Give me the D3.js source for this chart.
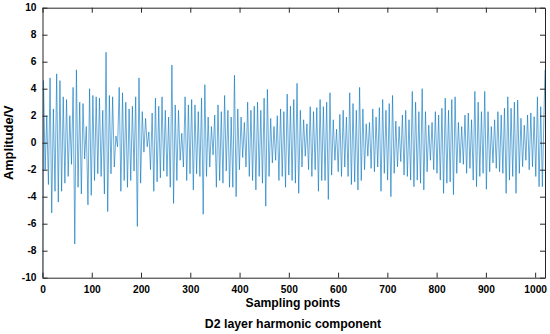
<!DOCTYPE html>
<html><head><meta charset="utf-8">
<script src="https://cdn.jsdelivr.net/npm/d3@7"></script>
<style>body{margin:0;background:#fff}text{font-family:"Liberation Sans",Arial,sans-serif}</style>
</head><body><svg id="c" width="550" height="334"></svg>
<script>
// ---- data ----
const firstSample = { index: 0, value: -10 };
const lastSample = { index: 1020, value: 5.4 };
const peakValues = [
  4.6, 2.0, 4.8, 2.5, 5.1, 4.6, 3.4, 3.2, 2.0, 4.1, 5.4, 3.0, 2.9, 1.2, 4.0, 3.5, 3.4, 3.3, 2.4, 6.7, 3.5, 3.4, 0.5, 4.1, 3.7,
  3.0, 2.5, 2.7, 3.4, 4.8, 2.3, 1.8, 0.8, 2.2, 3.3, 2.7, 3.4, 2.4, 1.9, 5.75, 2.8, 2.4, 0.7, 3.4, 2.8, 3.2, 2.8, 2.3, 3.3, 4.3, 1.9, 1.2,
  2.05, 2.8, 2.3, 3.5, 2.4, 1.9, 5.0, 2.5, 1.9, 1.5, 3.0, 2.4, 2.7, 3.0, 2.4, 3.3, 3.95, 1.8, 1.2, 2.0, 2.5, 2.3, 3.6, 2.7, 3.2, 4.4,
  2.4, 1.7, 1.4, 2.67, 2.3, 2.6, 3.2, 2.67, 3.0, 3.7, 1.7, 1.0, 2.1, 2.4, 1.9, 3.7, 2.9, 2.4, 4.1, 2.5, 1.4, 1.5, 2.5, 1.9, 2.6,
  3.2, 2.4, 2.9, 3.5, 1.6, 1.2, 2.05, 2.4, 1.7, 3.8, 3.0, 2.3, 4.0, 2.3, 1.3, 1.5, 2.3, 2.05, 2.55, 3.3, 2.4, 3.2, 3.4, 1.5, 1.2, 2.05,
  2.2, 1.7, 3.8, 3.0, 2.3, 3.8, 2.3, 1.2, 1.7, 2.3, 2.05, 2.55, 3.4, 2.55, 3.0, 3.16, 1.8, 1.3, 2.05, 2.2, 1.93, 3.4, 2.67
];
const troughValues = [
  -2.0, -3.1, -5.2, -3.6, -4.4, -3.6, -3.0, -2.5, -1.6, -7.5, -3.3, -3.8, -1.2, -4.6, -3.9, -2.8, -2.3, -2.5, -3.8, -5.1, -2.3, -1.8, -0.3, -3.6, -2.8,
  -3.3, -2.8, -2.1, -6.2, -3.0, -0.7, -0.3, -2.0, -3.6, -2.9, -2.6, -2.1, -2.5, -3.3, -4.5, -2.8, -1.3, -1.8, -2.8, -2.3, -3.5, -2.3, -2.5, -5.3, -2.5, -1.8,
  -0.9, -3.3, -2.8, -3.0, -2.1, -3.3, -3.3, -4.0, -2.0, -1.1, -1.8, -2.5, -2.8, -3.5, -2.5, -3.0, -4.7, -2.5, -1.5, -1.3, -2.8, -2.5, -3.3, -2.4, -2.8, -3.0,
  -3.75, -1.8, -1.0, -2.0, -2.5, -2.0, -3.6, -2.8, -2.8, -4.2, -2.4, -1.3, -2.15, -2.5, -1.8, -2.5, -3.1, -2.9, -3.5, -2.8, -2.0, -1.0, -1.9, -2.15, -1.8, -3.6,
  -2.27, -2.77, -4.0, -2.27, -1.78, -1.4, -2.4, -2.5, -2.77, -3.26, -2.77, -3.0, -3.5, -2.15, -1.3, -2.0, -2.27, -2.77, -3.75, -3.0, -2.9, -3.85, -2.27, -1.5, -1.6,
  -2.27, -1.9, -2.77, -3.26, -2.5, -2.27, -3.45, -2.15, -1.5, -1.9, -2.15, -2.27, -3.75, -2.77, -2.5, -3.75, -2.27, -1.78, -1.3, -2.0, -1.78, -2.5, -3.26, -3.26
];
const xTickValues = [0, 100, 200, 300, 400, 500, 600, 700, 800, 900, 1000];
const yTickValues = [-10, -8, -6, -4, -2, 0, 2, 4, 6, 8, 10];
const xLabel = "Sampling points";
const yLabel = "Amplitude/V";
const caption = "D2 layer harmonic component";

// ---- build the sample sequence (alternating peaks / troughs) ----
const cycleLen = (lastSample.index - 4) / peakValues.length;
const pts = [[firstSample.index, firstSample.value]];
peakValues.forEach((v, i) => {
  pts.push([2 + i * cycleLen, v]);
  pts.push([2 + (i + 0.5) * cycleLen, troughValues[i]]);
});
pts.push([lastSample.index, lastSample.value]);

// ---- layout ----
const svg = d3.select("#c");
const m = { l: 42.5, r: 545, t: 7.7, b: 277.7 };
const x = d3.scaleLinear().domain([0, 1020]).range([m.l, m.r]);
const y = d3.scaleLinear().domain([-10, 10]).range([m.b, m.t]);

svg.append("clipPath").attr("id", "clip").append("rect")
  .attr("x", m.l).attr("y", m.t).attr("width", m.r - m.l).attr("height", m.b - m.t);

svg.append("path").datum(pts)
  .attr("clip-path", "url(#clip)")
  .attr("fill", "none").attr("stroke", "#0072BD").attr("stroke-width", 0.6)
  .attr("stroke-linejoin", "round")
  .attr("d", d3.line().x(d => x(d[0])).y(d => y(d[1])));

const axColor = "#262626";
const tl = 5;
const fmt = d => String(d);
const styleAxis = g => {
  g.select(".domain").attr("stroke", axColor).attr("stroke-width", 1);
  g.selectAll(".tick line").attr("stroke", axColor).attr("stroke-width", 1);
  g.selectAll("text").attr("fill", "#000").attr("font-weight", "bold").attr("font-size", 10.2)
    .style("font-family", '"Liberation Sans", Arial, sans-serif');
};
svg.append("g").attr("transform", `translate(0,${m.b})`)
  .call(d3.axisBottom(x).tickValues(xTickValues).tickFormat(fmt).tickSizeInner(-tl).tickSizeOuter(0).tickPadding(8))
  .call(styleAxis);
svg.append("g").attr("transform", `translate(0,${m.t})`)
  .call(d3.axisTop(x).tickValues(xTickValues).tickFormat("").tickSizeInner(-tl).tickSizeOuter(0))
  .call(styleAxis);
svg.append("g").attr("transform", `translate(${m.l},0)`)
  .call(d3.axisLeft(y).tickValues(yTickValues).tickFormat(fmt).tickSizeInner(-tl).tickSizeOuter(0).tickPadding(6))
  .call(styleAxis);
svg.append("g").attr("transform", `translate(${m.r},0)`)
  .call(d3.axisRight(y).tickValues(yTickValues).tickFormat("").tickSizeInner(-tl).tickSizeOuter(0))
  .call(styleAxis);

svg.append("text").attr("x", 293).attr("y", 307)
  .attr("text-anchor", "middle").attr("font-weight", "bold").attr("font-size", 12.2).text(xLabel);
svg.append("text").attr("x", 293).attr("y", 328)
  .attr("text-anchor", "middle").attr("font-weight", "bold").attr("font-size", 12.3).text(caption);
svg.append("text").attr("transform", `translate(13,${(m.t + m.b) / 2}) rotate(-90)`)
  .attr("text-anchor", "middle").attr("font-weight", "bold").attr("font-size", 12.8).text(yLabel);
</script></body></html>
